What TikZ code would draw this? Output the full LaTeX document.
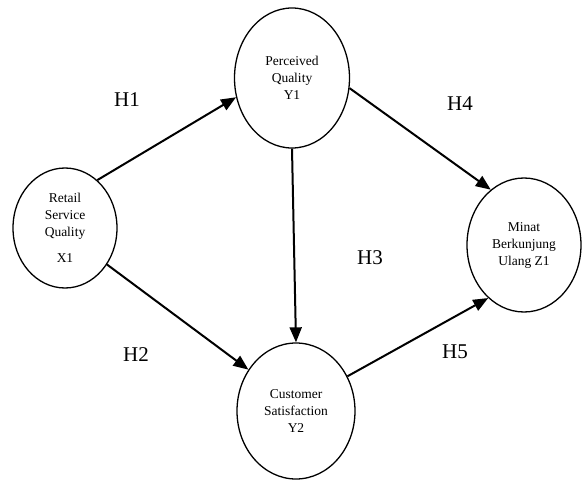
\documentclass[tikz,border=0pt]{standalone}
\usepackage{fontspec}
\setmainfont{Liberation Serif}
\usetikzlibrary{shapes.geometric,arrows.meta}
\begin{document}
\begin{tikzpicture}[x=1pt,y=-1pt,
  latent/.style={ellipse,draw,line width=1.3pt,inner sep=0pt,align=center,
    font=\fontsize{13.5}{17}\selectfont},
  arr/.style={line width=2pt,-{Triangle[length=15pt,width=12pt]}},
  hyp/.style={font=\fontsize{21}{24}\selectfont}]
\useasboundingbox (0,0) rectangle (582,482);
\node[latent,minimum width=104pt,minimum height=120pt] (X1) at (65,228) {Retail\\Service\\Quality\\[9pt]X1};
\node[latent,minimum width=115pt,minimum height=140pt] (Y1) at (292,78) {Perceived\\Quality\\Y1};
\node[latent,minimum width=118pt,minimum height=136pt] (Y2) at (296,411) {Customer\\Satisfaction\\Y2};
\node[latent,minimum width=114pt,minimum height=134pt] (Z1) at (524,245) {Minat\\Berkunjung\\Ulang Z1};
\draw[arr] (X1.56) -- (Y1.199);
\draw[arr] (X1.319) -- (Y2.139);
\draw[arr] (Y1.south) -- (Y2.north);
\draw[arr] (Y1.350) -- (Z1.121);
\draw[arr] (Y2.34) -- (Z1.236);
\node[hyp] (h1) at (127,100) {H1};
\node[hyp] (h2) at (136,355) {H2};
\node[hyp] (h3) at (370,258) {H3};
\node[hyp] (h4) at (460,104) {H4};
\node[hyp] (h5) at (455,352) {H5};
\end{tikzpicture}
\end{document}
